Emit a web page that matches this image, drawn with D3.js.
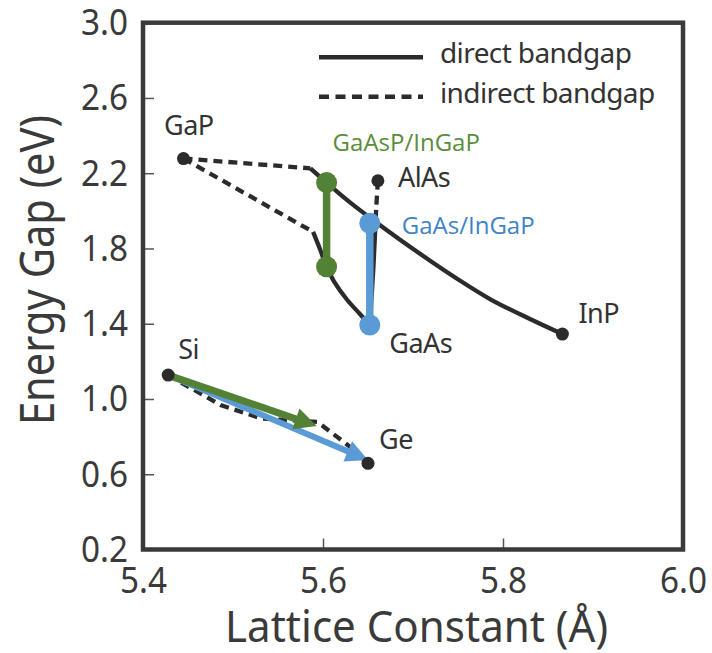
<!DOCTYPE html>
<html>
<head>
<meta charset="utf-8">
<script src="https://cdn.jsdelivr.net/npm/d3@7"></script>
<style>
  body { margin: 0; background: #fff; }
  svg { display: block; font-family: "Noto Sans", sans-serif; }
</style>
</head>
<body>
<svg id="chart" width="712" height="653"></svg>
<script>
// binary compounds / elements
const materials = ['GaP', 'AlAs', 'InP', 'GaAs', 'Si', 'Ge'];
const latticeConst = [5.445, 5.661, 5.866, 5.652, 5.428, 5.650];
const energyGap = [2.278, 2.160, 1.345, 1.393, 1.127, 0.658];

// alloy curves as [lattice, gap]
const gaInPIndirect = [[5.445, 2.278], [5.586, 2.226]];
const gaInPDirect = [[5.586, 2.226], [5.604, 2.150], [5.630, 2.045], [5.656, 1.950], [5.686, 1.845],
                     [5.719, 1.735], [5.752, 1.630], [5.786, 1.530], [5.830, 1.425], [5.866, 1.345]];
const gaAsPIndirect = [[5.445, 2.278], [5.589, 1.888]];
const gaAsPDirect = [[5.589, 1.888], [5.597, 1.792], [5.604, 1.702], [5.612, 1.627],
                     [5.627, 1.526], [5.641, 1.452], [5.652, 1.393]];
const alGaAsIndirect = [[5.661, 2.160], [5.659, 2.005]];
const alGaAsDirect = [[5.659, 2.005], [5.656, 1.700], [5.652, 1.393]];
const siGeIndirect = [[5.428, 1.127], [5.486, 0.968], [5.532, 0.896], [5.594, 0.878], [5.630, 0.746], [5.650, 0.658]];

// two-junction cell designs
const cellNames = ['GaAsP/InGaP', 'GaAs/InGaP'];
const cellLattice = [5.604, 5.652];
const cellTopGap = [2.150, 1.934];
const cellBottomGap = [1.703, 1.393];

// SiGe graded buffer arrows, start at Si
const arrowEndLattice = [5.650, 5.593];
const arrowEndGap = [0.676, 0.856];

const xTicks = [5.4, 5.6, 5.8, 6.0];
const yTicks = [0.2, 0.6, 1.0, 1.4, 1.8, 2.2, 2.6, 3.0];
const legendLabels = ['direct bandgap', 'indirect bandgap'];

const ink = '#2b2b2b';
const green = '#538135';
const blue = '#5b9bd5';

const svg = d3.select('#chart');
const x = d3.scaleLinear().domain([5.4, 6.0]).range([143, 683]);
const y = d3.scaleLinear().domain([0.2, 3.0]).range([549.5, 22.7]);

const lineLin = d3.line().x(d => x(d[0])).y(d => y(d[1]));
const lineCurve = d3.line().x(d => x(d[0])).y(d => y(d[1])).curve(d3.curveCatmullRom.alpha(0.5));

// axes
const yAxis = svg.append('g')
    .attr('transform', `translate(${x(5.4)},0)`)
    .call(d3.axisLeft(y).tickValues(yTicks).tickFormat(d3.format('.1f')).tickSizeInner(-11).tickSizeOuter(0).tickPadding(15));
const xAxis = svg.append('g')
    .attr('transform', `translate(0,${y(0.2)})`)
    .call(d3.axisBottom(x).tickValues(xTicks).tickFormat(d3.format('.1f')).tickSizeInner(-11).tickSizeOuter(0).tickPadding(17));
[yAxis, xAxis].forEach(g => {
    g.select('.domain').remove();
    g.selectAll('line').attr('stroke', '#555').attr('stroke-width', 1.5);
    g.selectAll('text')
        .attr('font-family', '"Noto Sans", sans-serif')
        .attr('font-size', 37)
        .attr('fill', '#3a3a3a')
        .attr('textLength', 47)
        .attr('lengthAdjust', 'spacingAndGlyphs');
});

svg.append('text')
    .attr('transform', 'translate(54,270) rotate(-90)')
    .attr('text-anchor', 'middle')
    .attr('font-size', 47)
    .attr('fill', '#3a3a3a')
    .attr('textLength', 310)
    .attr('lengthAdjust', 'spacingAndGlyphs')
    .text('Energy Gap (eV)');

svg.append('text')
    .attr('x', 416.5).attr('y', 642)
    .attr('text-anchor', 'middle')
    .attr('font-size', 44)
    .attr('fill', '#3a3a3a')
    .attr('textLength', 383)
    .attr('lengthAdjust', 'spacingAndGlyphs')
    .text('Lattice Constant (Å)');

// alloy curves
const plot = svg.append('g');
[gaInPIndirect, gaAsPIndirect, alGaAsIndirect, siGeIndirect].forEach(d => {
    plot.append('path').attr('d', lineLin(d))
        .attr('fill', 'none').attr('stroke', ink).attr('stroke-width', 4.3).attr('stroke-dasharray', '9,6');
});
[gaInPDirect, gaAsPDirect, alGaAsDirect].forEach(d => {
    plot.append('path').attr('d', lineCurve(d))
        .attr('fill', 'none').attr('stroke', ink).attr('stroke-width', 4.3);
});

// arrows from Si
const siIdx = materials.indexOf('Si');
const arrowColors = [blue, green];
const arrowWidths = [6, 7];
arrowEndLattice.forEach((lc, i) => {
    const x0 = x(latticeConst[siIdx]), y0 = y(energyGap[siIdx]);
    const x1 = x(lc), y1 = y(arrowEndGap[i]);
    const len = Math.hypot(x1 - x0, y1 - y0);
    const ux = (x1 - x0) / len, uy = (y1 - y0) / len;
    const headLen = 22, headW = 11;
    const bx = x1 - ux * headLen, by = y1 - uy * headLen;
    plot.append('line')
        .attr('x1', x0).attr('y1', y0).attr('x2', bx + ux * 2).attr('y2', by + uy * 2)
        .attr('stroke', arrowColors[i]).attr('stroke-width', arrowWidths[i]);
    plot.append('polygon')
        .attr('points', [[x1, y1], [bx - uy * headW, by + ux * headW], [bx + uy * headW, by - ux * headW]].map(p => p.join(',')).join(' '))
        .attr('fill', arrowColors[i]);
});

// material dots
plot.selectAll('.mat')
    .data(materials)
    .enter()
    .append('circle')
    .classed('mat', true)
    .attr('cx', (d, i) => x(latticeConst[i]))
    .attr('cy', (d, i) => y(energyGap[i]))
    .attr('r', 6.5)
    .attr('fill', ink);

// cell designs
const cellColors = [green, blue];
cellNames.forEach((name, i) => {
    plot.append('line')
        .attr('x1', x(cellLattice[i])).attr('x2', x(cellLattice[i]))
        .attr('y1', y(cellTopGap[i])).attr('y2', y(cellBottomGap[i]))
        .attr('stroke', cellColors[i]).attr('stroke-width', 7.5);
    [cellTopGap[i], cellBottomGap[i]].forEach(g => {
        plot.append('circle')
            .attr('cx', x(cellLattice[i])).attr('cy', y(g))
            .attr('r', 10.5).attr('fill', cellColors[i]);
    });
});

// labels
const matOffset = { GaP: [-19.5, -23.5], AlAs: [20, 6], InP: [16, -11], GaAs: [19.5, 27.5], Si: [10, -16], Ge: [11, -14] };
plot.selectAll('.matlabel')
    .data(materials)
    .enter()
    .append('text')
    .classed('matlabel', true)
    .attr('x', (d, i) => x(latticeConst[i]) + matOffset[d][0])
    .attr('y', (d, i) => y(energyGap[i]) + matOffset[d][1])
    .attr('font-size', 27)
    .attr('fill', '#333')
    .attr('letter-spacing', -0.5)
    .text(d => d);

const cellOffset = [[6, -32], [32, 11]];
const cellTextColors = ['#5a8d3a', '#3d83c6'];
cellNames.forEach((name, i) => {
    plot.append('text')
        .attr('x', x(cellLattice[i]) + cellOffset[i][0])
        .attr('y', y(cellTopGap[i]) + cellOffset[i][1])
        .attr('font-family', '"Open Sans", sans-serif')
        .attr('font-size', 24)
        .attr('fill', cellTextColors[i])
        .text(name);
});

// legend
const legend = svg.append('g');
legendLabels.forEach((lab, i) => {
    const ly = 57.3 + i * 39.4;
    legend.append('line')
        .attr('x1', 319).attr('x2', 423).attr('y1', ly).attr('y2', ly)
        .attr('stroke', ink).attr('stroke-width', 4.5)
        .attr('stroke-dasharray', i === 1 ? '10,6.5' : null);
    legend.append('text')
        .attr('x', 440).attr('y', ly + 6)
        .attr('font-size', 28)
        .attr('fill', '#333')
        .attr('letter-spacing', -0.6)
        .text(lab);
});

// frame
svg.append('rect')
    .attr('x', x(5.4)).attr('y', y(3.0))
    .attr('width', x(6.0) - x(5.4)).attr('height', y(0.2) - y(3.0))
    .attr('fill', 'none').attr('stroke', '#3a3a3a').attr('stroke-width', 4.5);
</script>
</body>
</html>
